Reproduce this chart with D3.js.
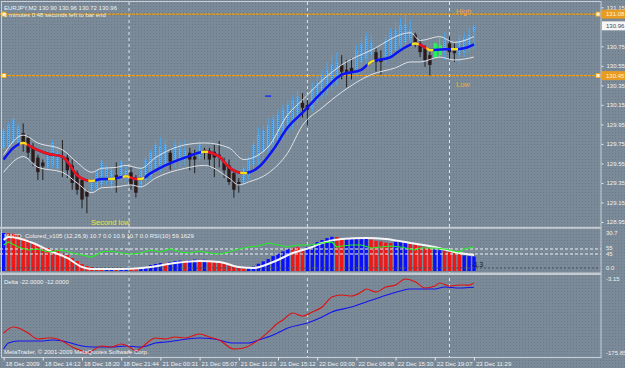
<!DOCTYPE html>
<html>
<head>
<meta charset="utf-8">
<script src="https://cdn.jsdelivr.net/npm/d3@7"></script>
<style>
body { margin: 0; background: #778899; }
text { font-family: "Liberation Sans", Arial, sans-serif; }
</style>
</head>
<body>
<div id="chart"></div>
<script>
// EURJPY,M2 bars (oldest first)
var opens = [129.71,129.72,129.76,129.74,129.86,129.81,129.72,129.61,129.56,129.51,
  129.53,129.50,129.62,129.61,129.53,129.45,129.38,129.26,129.28,129.30,
  129.33,129.38,129.33,129.43,129.40,129.40,129.46,129.38,129.33,129.38,
  129.42,129.50,129.53,129.54,129.66,129.57,129.59,129.59,129.66,129.62,
  129.61,129.69,129.68,129.67,129.64,129.56,129.53,129.45,129.36,129.35,
  129.43,129.53,129.61,129.67,129.71,129.76,129.79,129.84,129.91,129.96,
  130.02,130.17,130.15,130.12,130.20,130.25,130.30,130.35,130.41,130.56,
  130.51,130.53,130.51,130.59,130.63,130.66,130.69,130.61,130.61,130.66,
  130.71,130.76,130.79,130.82,130.87,130.78,130.73,130.66,130.64,130.66,
  130.69,130.78,130.71,130.66,130.69,130.73,130.90];
var highs = [129.91,129.97,130.02,129.95,129.96,129.84,129.76,129.64,129.59,129.69,
  129.79,129.71,129.79,129.64,129.59,129.48,129.40,129.28,129.40,129.48,
  129.59,129.53,129.51,129.56,129.59,129.53,129.51,129.43,129.51,129.62,
  129.69,129.79,129.82,129.79,129.69,129.79,129.77,129.79,129.71,129.69,
  129.79,129.71,129.71,129.74,129.78,129.61,129.59,129.48,129.40,129.53,
  129.62,129.79,129.92,129.94,130.02,130.05,130.10,130.15,130.20,130.25,
  130.30,130.27,130.20,130.38,130.46,130.51,130.58,130.66,130.69,130.66,
  130.61,130.63,130.76,130.84,130.89,130.87,130.74,130.71,130.87,130.94,
  131.00,131.04,131.08,131.02,130.89,130.82,130.76,130.71,130.79,130.84,
  130.89,130.85,130.78,130.87,130.89,130.95,130.96];
var lows = [129.69,129.71,129.74,129.73,129.67,129.61,129.52,129.38,129.38,129.48,
  129.50,129.46,129.41,129.40,129.28,129.23,129.09,129.04,129.25,129.28,
  129.30,129.33,129.28,129.25,129.36,129.36,129.28,129.20,129.30,129.33,
  129.38,129.45,129.46,129.50,129.48,129.50,129.51,129.53,129.48,129.45,
  129.57,129.59,129.51,129.41,129.51,129.40,129.33,129.20,129.25,129.33,
  129.38,129.48,129.53,129.59,129.64,129.69,129.74,129.79,129.84,129.89,
  129.94,130.02,129.94,130.08,130.15,130.20,130.25,130.30,130.35,130.41,
  130.33,130.41,130.46,130.53,130.56,130.61,130.49,130.46,130.56,130.61,
  130.66,130.71,130.73,130.76,130.74,130.64,130.54,130.45,130.63,130.63,
  130.61,130.61,130.59,130.56,130.64,130.69,130.72];
var closes = [129.89,129.94,130.00,129.92,129.76,129.66,129.56,129.46,129.52,129.66,
  129.76,129.67,129.61,129.48,129.35,129.28,129.18,129.21,129.38,129.46,
  129.57,129.50,129.48,129.41,129.57,129.48,129.33,129.25,129.48,129.59,
  129.66,129.74,129.72,129.74,129.57,129.74,129.71,129.69,129.59,129.59,
  129.74,129.66,129.59,129.61,129.62,129.48,129.36,129.28,129.33,129.50,
  129.59,129.74,129.84,129.89,129.94,130.00,130.05,130.10,130.15,130.20,
  130.23,130.12,130.10,130.32,130.38,130.46,130.51,130.56,130.59,130.49,
  130.49,130.49,130.71,130.78,130.84,130.79,130.59,130.59,130.82,130.89,
  130.92,130.97,130.97,130.92,130.78,130.69,130.61,130.56,130.78,130.76,
  130.82,130.69,130.68,130.82,130.84,130.87,130.96];
var greenBars = [88, 89];

// moving average and its bands (bar index, price)
var maIdx = [0,2,4,6,9,12,13,15,18,20,22,24,25,27,28,30,33,37,41,44,46,49,52,55,58,61,65,69,73,75,79,81,84,86,87,90,92,94,96];
var maVal = [129.59,129.71,129.76,129.71,129.65,129.62,129.57,129.43,129.37,129.39,129.39,129.41,129.42,129.39,129.39,129.45,129.53,129.61,129.67,129.62,129.51,129.45,129.51,129.69,129.92,130.07,130.28,130.46,130.51,130.59,130.64,130.71,130.78,130.74,130.71,130.72,130.72,130.73,130.77];
var signalIdx = [4, 18, 22, 25, 28, 41, 49, 75, 84, 87, 92];
var upIdx = [0,4,7,12,15,18,20,23,25,28,31,37,41,46,49,54,58,61,65,69,75,83,85,89,92,96];
var upVal = [129.64,129.84,129.76,129.69,129.56,129.46,129.50,129.51,129.53,129.50,129.61,129.74,129.76,129.71,129.59,129.72,130.05,130.20,130.40,130.56,130.71,130.89,130.81,130.85,130.79,130.85];
var lowIdx = [0,4,7,12,15,18,20,23,26,28,31,37,41,46,48,50,54,58,61,65,69,75,80,83,85,89,92,96];
var lowVal = [129.46,129.62,129.51,129.46,129.35,129.25,129.30,129.31,129.33,129.31,129.40,129.50,129.53,129.40,129.33,129.36,129.45,129.66,129.94,130.12,130.28,130.46,130.53,130.59,130.59,130.64,130.61,130.64];
var markIdx = [54], markVal = [130.24];

var highLevel = 131.08, lowLevel = 130.45, lastPrice = 130.96;
var priceTicks = [128.95,129.15,129.35,129.55,129.75,129.95,130.15,130.35,130.55,130.75,131.15];
var dayBreaks = [25.6, 62, 91];
var timeIdx = [0,8,16,24,32,40,48,56,64,72,80,88,96];
var timeLabels = ["18 Dec 2009","18 Dec 14:12","18 Dec 18:20","18 Dec 21:44","21 Dec 00:31","21 Dec 05:07",
  "21 Dec 11:23","21 Dec 15:12","22 Dec 03:00","22 Dec 09:58","22 Dec 15:30","22 Dec 19:07","23 Dec 11:29"];

// MACD_Colored histogram, main line and RSI(10)
var histVal = [30.7,30.5,30.0,29.0,26.4,24.7,22.2,20.5,18.8,17.9,16.2,15.4,13.6,11.9,9.4,6.8,4.3,2.6,1.7,0.9,
  0.4,0.6,0.8,0.5,0.7,0.9,0.6,0.3,
  0.8,1.7,3.4,4.3,5.1,4.8,6.0,6.8,7.2,7.0,7.7,8.0,7.7,7.9,
  7.0,6.0,5.1,4.3,3.0,1.7,1.0,0.5,
  0.9,2.0,4.5,6.5,8.5,11.0,13.0,15.0,17.0,
  18.0,18.5,16.5,
  18.8,20.5,23.0,24.7,26.4,27.5,
  27.3,26.4,
  26.0,25.5,26.0,26.4,26.0,
  25.2,24.0,23.5,22.5,22.2,
  23.0,23.5,23.0,
  22.0,21.0,19.5,18.5,17.5,
  16.5,16.0,
  15.5,14.5,13.5,12.5,
  11.5,11.0,10.7];
var histDir = ("b" + "rrrrrrrrrrrrrrrrrrr" + "rbbrbbrr" + "bbbbbrbbbrbbrb" + "rrrrrrrr" + "bbbbbbbbb" +
  "rrr" + "bbbbbb" + "rr" + "bbbbb" + "rrrrr" + "bbb" + "rrrrr" + "bb" + "rrrr" + "bbb").split("");
var macdIdx = [0,1,6,9,13,16,18,22,26,30,35,40,44,48,51,55,59,63,65,69,74,78,83,88,92,96];
var macdVal = [24.7,27.3,22.2,16.2,9.4,1.7,0.0,0.0,0.2,1.7,5.1,6.8,6.0,1.7,0.9,6.0,13.6,18.8,22.2,25.6,26.4,25.6,22.2,18.8,14.5,12.0];
var rsiIdx = [0,1,3,5,7,9,12,14,16,18,20,22,24,26,28,30,32,34,36,38,40,42,44,46,48,50,52,54,56,58,60,63,65,67,68,69,71,73,75,77,79,81,84,85,88,90,93,94,96];
var rsiVal = [63,69,59,53,55,49,53,47,43,39,49,51,47,45,47,53,49,55,49,47,51,47,45,49,55,59,61,67,63,59,63,63,67,69,59,61,63,63,57,59,61,59,53,57,57,55,49,55,59.16];
var rsiLevels = [55, 45];

// Delta lines
var dRedIdx = [0,2,3,5,7,9,10,12,14,16,17,18,20,22,24,26,27,28,31,33,35,37,40,42,44,47,49,52,54,56,57,59,61,63,65,67,69,71,73,74,76,78,80,82,84,86,88,89,91,93,95,96];
var dRedVal = [-125.9,-112.2,-114.5,-125.9,-139.5,-137.2,-137.2,-144.0,-157.7,-166.8,-172.0,-166.8,-155.4,-157.7,-150.9,-160.0,-166.8,-160.0,-137.2,-139.5,-135.0,-137.2,-128.1,-135.0,-141.8,-162.2,-160.0,-141.8,-123.6,-103.1,-96.3,-80.4,-87.2,-78.1,-66.8,-44.1,-39.5,-41.8,-32.7,-25.9,-32.7,-21.3,-16.8,-3.15,-9.2,-23.6,-19.1,-12.2,-19.1,-16.8,-17.0,-12.0];
var dBlueIdx = [0,1,3,6,8,10,13,16,18,22,25,28,31,33,36,40,43,47,50,52,55,58,62,65,67,71,74,77,81,83,88,90,93,96];
var dBlueVal = [-162.2,-148.6,-144.0,-144.0,-144.0,-141.8,-146.3,-155.4,-157.7,-157.7,-155.4,-157.7,-148.6,-146.3,-141.8,-137.2,-139.5,-148.6,-148.6,-141.8,-130.4,-114.5,-103.1,-89.5,-78.1,-66.8,-55.4,-44.1,-30.4,-25.9,-25.9,-21.3,-23.6,-22.0];

var W = 625, H = 368, plotR = 601;
var font = "'Liberation Sans', Arial, sans-serif";

var svg = d3.select("#chart").append("svg").attr("width", W).attr("height", H);
var defs = svg.append("defs");

// background with the gif-like dither
var bgPat = defs.append("pattern").attr("id", "bgdots").attr("width", 3).attr("height", 3)
  .attr("patternUnits", "userSpaceOnUse");
bgPat.append("rect").attr("width", 3).attr("height", 3).attr("fill", "#7b8a99");
bgPat.append("rect").attr("width", 1).attr("height", 1).attr("fill", "#6c7986");
svg.append("rect").attr("width", W).attr("height", H).attr("fill", "url(#bgdots)");

var lbPat = defs.append("pattern").attr("id", "lbdots").attr("width", 2).attr("height", 2)
  .attr("patternUnits", "userSpaceOnUse");
lbPat.append("rect").attr("width", 2).attr("height", 2).attr("fill", "#5ab2f2");
lbPat.append("rect").attr("width", 1).attr("height", 1).attr("fill", "#2f84d4");

function clipRect(id, x0, y0, w, h) {
  defs.append("clipPath").attr("id", id).append("rect")
    .attr("x", x0).attr("y", y0).attr("width", w).attr("height", h);
  return "url(#" + id + ")";
}

// scales
var x = d3.scaleLinear().domain([0, 96]).range([3.6, 474]);
var yP = d3.scaleLinear().domain([128.95, 131.15]).range([222, 7.3]);
var yM = d3.scaleLinear().domain([0, 30.7]).range([269, 233]);
var yR = d3.scaleLinear().domain([45, 55]).range([254, 249]);
var yD = d3.scaleLinear().domain([-175.85, -3.15]).range([355, 279]);

function pts(idx, vals) { return idx.map(function(d, k) { return [d, vals[k]]; }); }

// day separators
svg.append("g").selectAll("line").data(dayBreaks).enter().append("line")
  .attr("x1", function(d) { return x(d); }).attr("x2", function(d) { return x(d); })
  .attr("y1", 2).attr("y2", 357)
  .attr("stroke", "#e4e8ec").attr("stroke-dasharray", "3,3");

// ---------- main price panel ----------
var main = svg.append("g").attr("clip-path", clipRect("clipMain", 0, 2, plotR, 225));

[highLevel, lowLevel].forEach(function(v) {
  main.append("line").attr("x1", 0).attr("x2", plotR).attr("y1", yP(v)).attr("y2", yP(v))
    .attr("stroke", "#ffa500").attr("stroke-dasharray", "3,1");
  [2, plotR - 5].forEach(function(px) {
    main.append("rect").attr("x", px).attr("y", yP(v) - 2).attr("width", 4).attr("height", 4)
      .attr("fill", "#fff3d8").attr("stroke", "#ffa500").attr("stroke-width", 0.8);
  });
});

main.append("text").attr("x", 456).attr("y", 13.5).text("High")
  .attr("fill", "#f0a848").style("font-size", "7.5px");
main.append("text").attr("x", 456).attr("y", 87).text("Low")
  .attr("fill", "#f0a848").style("font-size", "7.5px");
main.append("text").attr("x", 91).attr("y", 224.5).text("Second low")
  .attr("fill", "#ece44a").style("font-size", "7.5px");

// candles
var bars = d3.range(opens.length);
var candle = main.append("g").selectAll("g").data(bars).enter().append("g");
function isUp(i) { return closes[i] >= opens[i]; }
function isGreen(i) { return greenBars.indexOf(i) >= 0; }
candle.append("line")
  .attr("x1", function(i) { return x(i); }).attr("x2", function(i) { return x(i); })
  .attr("y1", function(i) { return yP(highs[i]); }).attr("y2", function(i) { return yP(lows[i]); })
  .attr("stroke", function(i) { return isGreen(i) ? "#2fe86a" : isUp(i) ? "#4aa6ec" : "#202020"; })
  .attr("stroke-width", 1);
candle.append("rect")
  .attr("x", function(i) { return x(i) - (isUp(i) ? 1.2 : 1.7); })
  .attr("width", function(i) { return isGreen(i) ? 3.6 : isUp(i) ? 2.4 : 3.4; })
  .attr("y", function(i) { return yP(Math.max(opens[i], closes[i])); })
  .attr("height", function(i) { return Math.max(1, Math.abs(yP(opens[i]) - yP(closes[i]))); })
  .attr("fill", function(i) { return isGreen(i) ? "#27f060" : isUp(i) ? "url(#lbdots)" : "#2b1b1b"; });

// bands
var bandLine = d3.line().x(function(d) { return x(d[0]); }).y(function(d) { return yP(d[1]); })
  .curve(d3.curveMonotoneX);
main.append("path").attr("d", bandLine(pts(upIdx, upVal)))
  .attr("fill", "none").attr("stroke", "#dfe3e8").attr("stroke-width", 1);
main.append("path").attr("d", bandLine(pts(lowIdx, lowVal)))
  .attr("fill", "none").attr("stroke", "#dfe3e8").attr("stroke-width", 1);

// moving average: blue rising, red falling, yellow at signals
var maPts = pts(maIdx, maVal);
var maD = bandLine(maPts);
var maW = 2.5;
main.append("path").attr("d", maD).attr("fill", "none").attr("stroke", "#0b14f5").attr("stroke-width", maW);
var falling = false;
for (var k = 1; k < maPts.length; k++) {
  var dv = maPts[k][1] - maPts[k - 1][1];
  if (dv < 0) falling = true; else if (dv > 0) falling = false;
  if (falling) {
    var x0 = x(maPts[k - 1][0]) - 0.5, x1 = x(maPts[k][0]) + 0.5;
    main.append("path").attr("d", maD).attr("fill", "none").attr("stroke", "#f01414").attr("stroke-width", maW)
      .attr("clip-path", clipRect("red" + k, x0, 0, x1 - x0, 230));
  }
}
signalIdx.forEach(function(s, k) {
  main.append("path").attr("d", maD).attr("fill", "none").attr("stroke", "#f2e21a").attr("stroke-width", maW)
    .attr("clip-path", clipRect("sig" + k, x(s) - 3.5, 0, 7, 230));
});
markIdx.forEach(function(m, k) {
  main.append("line").attr("x1", x(m) - 3).attr("x2", x(m) + 3)
    .attr("y1", yP(markVal[k])).attr("y2", yP(markVal[k]))
    .attr("stroke", "#1a2cff").attr("stroke-width", 1.5);
});

main.append("text").attr("x", 4).attr("y", 10).text("EURJPY,M2  130.90 130.96 130.72 130.96")
  .attr("fill", "#f2f2f2").style("font-size", "6px");
main.append("text").attr("x", 4).attr("y", 17).text("6 minutes 0:48 seconds left to bar end")
  .attr("fill", "#f4f0dc").style("font-size", "6px");

// ---------- MACD / RSI panel ----------
var macd = svg.append("g").attr("clip-path", clipRect("clipMacd", 0, 229, plotR, 43.5));
macd.selectAll("rect.h").data(histVal).enter().append("rect").attr("class", "h")
  .attr("x", function(d, i) { return x(i) - 1.7; }).attr("width", 3.4)
  .attr("y", function(d) { return yM(d); })
  .attr("height", function(d) { return yM(0) - yM(d) + 2; })
  .attr("fill", function(d, i) { return histDir[i] === "b" ? "#0a10ff" : "#f21616"; });
rsiLevels.forEach(function(v) {
  macd.append("line").attr("x1", 0).attr("x2", plotR).attr("y1", yR(v)).attr("y2", yR(v))
    .attr("stroke", "#eef0f2").attr("stroke-dasharray", "3,2");
});
macd.append("line").attr("x1", 0).attr("x2", plotR).attr("y1", yM(0) - 1).attr("y2", yM(0) - 1)
  .attr("stroke", "#45505a").attr("stroke-dasharray", "2,2");
macd.append("path")
  .attr("d", d3.line().x(function(d) { return x(d[0]); }).y(function(d) { return yM(d[1]); })
    .curve(d3.curveMonotoneX)(pts(macdIdx, macdVal)))
  .attr("fill", "none").attr("stroke", "#f6f6f6").attr("stroke-width", 2);
macd.append("path")
  .attr("d", d3.line().x(function(d) { return x(d[0]); }).y(function(d) { return yR(d[1]); })(pts(rsiIdx, rsiVal)))
  .attr("fill", "none").attr("stroke", "#22ee22").attr("stroke-width", 1.2);
macd.append("text").attr("x", 4).attr("y", 237.5)
  .text("MACD_Colored_v105 (12,26,9) 10.7 0.0 10.9 10.7 0.0  RSI(10) 59.1629")
  .attr("fill", "#f2f2f2").style("font-size", "6px");
macd.append("text").attr("x", 472).attr("y", 267).text("-1.3")
  .attr("fill", "#111").style("font-size", "6.5px");

// ---------- Delta panel ----------
var delta = svg.append("g").attr("clip-path", clipRect("clipDelta", 0, 275, plotR, 82));
var dLine = d3.line().x(function(d) { return x(d[0]); }).y(function(d) { return yD(d[1]); })
  .curve(d3.curveMonotoneX);
delta.append("path").attr("d", dLine(pts(dBlueIdx, dBlueVal)))
  .attr("fill", "none").attr("stroke", "#1414ee").attr("stroke-width", 1.1);
delta.append("path").attr("d", dLine(pts(dRedIdx, dRedVal)))
  .attr("fill", "none").attr("stroke", "#e01010").attr("stroke-width", 1.1);
delta.append("text").attr("x", 4).attr("y", 284).text("Delta -22.0000 -12.0000")
  .attr("fill", "#f2f2f2").style("font-size", "6px");
delta.append("text").attr("x", 4).attr("y", 354).text("MetaTrader, \u00a9 2001-2009 MetaQuotes Software Corp.")
  .attr("fill", "#f2f2f2").style("font-size", "6px");

// ---------- frames and separators ----------
svg.append("rect").attr("x", 1.5).attr("y", 1.5).attr("width", plotR - 1.5).attr("height", 356)
  .attr("fill", "none").attr("stroke", "#c9d0d7");
svg.append("rect").attr("x", 0).attr("y", 226.8).attr("width", plotR).attr("height", 2).attr("fill", "#c3cad1");
svg.append("rect").attr("x", 0).attr("y", 272.5).attr("width", plotR).attr("height", 2.5).attr("fill", "#c3cad1");

// price axis
var pAxis = svg.append("g").attr("transform", "translate(" + (plotR + 0.5) + ",0)")
  .call(d3.axisRight(yP).tickValues(priceTicks).tickSize(2).tickPadding(3).tickFormat(d3.format(".2f")))
  .attr("font-family", font).attr("font-size", 6);
pAxis.select(".domain").remove();
pAxis.selectAll("line").attr("stroke", "#e8e8e8");
pAxis.selectAll("text").attr("fill", "#f0f0f0");

function axisBox(v, fill, color) {
  var g = svg.append("g").attr("transform", "translate(" + (plotR + 1) + "," + yP(v) + ")");
  g.append("rect").attr("x", 0).attr("y", -4.5).attr("width", W - plotR).attr("height", 9).attr("fill", fill);
  g.append("text").attr("x", 4).attr("dy", "0.35em").text(d3.format(".2f")(v))
    .attr("fill", color).style("font-size", "6px");
}
axisBox(highLevel, "#e89c22", "#fff4e0");
axisBox(lowLevel, "#e89c22", "#fff4e0");
axisBox(lastPrice, "#f6f6f6", "#404850");

// indicator scale labels
var sideLabels = [["30.7", yM(30.7)], ["55", yR(55) - 1], ["45", yR(45)], ["0.0", yM(0) - 1],
  ["-3.15", yD(-3.15)], ["-175.85", yD(-175.85) - 2]];
svg.append("g").selectAll("text").data(sideLabels).enter().append("text")
  .attr("x", 606).attr("y", function(d) { return d[1]; }).attr("dy", "0.35em")
  .text(function(d) { return d[0]; })
  .attr("fill", "#f0f0f0").style("font-size", "6px");

// time axis
var tAxis = svg.append("g").attr("transform", "translate(0,357.5)")
  .call(d3.axisBottom(x).tickValues(timeIdx).tickSize(3).tickPadding(1)
    .tickFormat(function(d, k) { return timeLabels[k]; }))
  .attr("font-family", font).attr("font-size", 6);
tAxis.select(".domain").remove();
tAxis.selectAll("line").attr("stroke", "#e8e8e8");
tAxis.selectAll("text").attr("fill", "#f0f0f0").attr("text-anchor", "start").attr("x", 1.5);
</script>
</body>
</html>
